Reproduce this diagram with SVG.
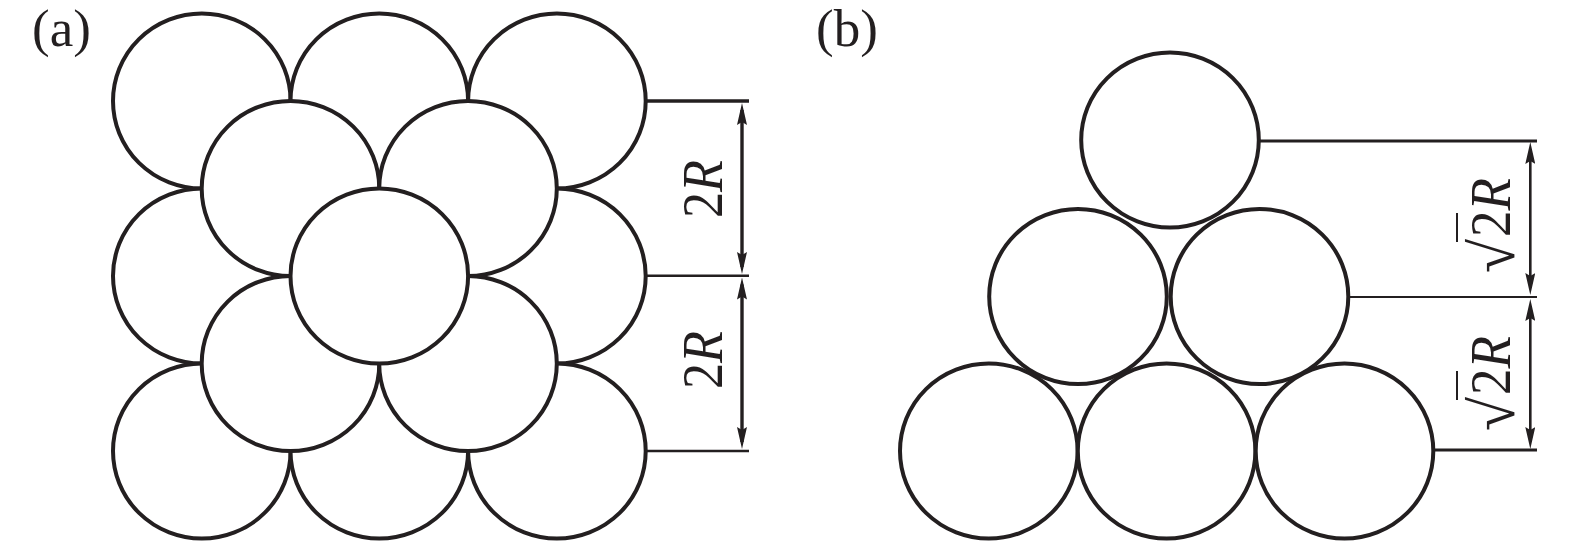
<svg xmlns="http://www.w3.org/2000/svg" width="1575" height="548" viewBox="0 0 1575 548">
<defs>
<marker id="ah" viewBox="0 0 22 10" refX="15" refY="5" markerWidth="22" markerHeight="10" markerUnits="userSpaceOnUse" orient="auto-start-reverse"><path d="M22 5L0 10L3 5L0 0Z" fill="#231f20"/></marker>
</defs>
<style>
.c{fill:#fff;stroke:#231f20;stroke-width:4}
.d{stroke:#231f20;stroke-width:2.6;fill:none}
.a{stroke:#231f20;stroke-width:3.4;marker-start:url(#ah);marker-end:url(#ah);fill:none}
.b{stroke-width:2.6}
text{font-family:"Liberation Serif","Times New Roman",serif;fill:#231f20}
.l{font-size:53px}
.v{font-size:56px}
.s{font-size:62px}
.r{font-style:italic}
</style>
<rect width="1575" height="548" fill="#fff"/>
<g id="panel-a-circles">
<g id="a1"><ellipse class="c" cx="201.800" cy="101" rx="88.800" ry="87.600"/></g>
<g id="a2"><ellipse class="c" cx="379.300" cy="101" rx="88.800" ry="87.600"/></g>
<g id="a3"><ellipse class="c" cx="556.900" cy="101" rx="88.800" ry="87.600"/></g>
<g id="a4"><ellipse class="c" cx="201.800" cy="276" rx="88.800" ry="87.600"/></g>
<g id="a5"><ellipse class="c" cx="556.900" cy="276" rx="88.800" ry="87.600"/></g>
<g id="a6"><ellipse class="c" cx="201.800" cy="451" rx="88.800" ry="87.600"/></g>
<g id="a7"><ellipse class="c" cx="379.300" cy="451" rx="88.800" ry="87.600"/></g>
<g id="a8"><ellipse class="c" cx="556.900" cy="451" rx="88.800" ry="87.600"/></g>
<g id="a9"><ellipse class="c" cx="290.500" cy="188.500" rx="88.800" ry="87.600"/></g>
<g id="a10"><ellipse class="c" cx="468" cy="188.500" rx="88.800" ry="87.600"/></g>
<g id="a11"><ellipse class="c" cx="290.500" cy="363.500" rx="88.800" ry="87.600"/></g>
<g id="a12"><ellipse class="c" cx="468" cy="363.500" rx="88.800" ry="87.600"/></g>
<g id="a13"><ellipse class="c" cx="379.300" cy="276" rx="88.800" ry="87.600"/></g>
</g>
<g id="panel-b-circles">
<g id="b1"><ellipse class="c" cx="1170" cy="140" rx="88.800" ry="87.600"/></g>
<g id="b2"><ellipse class="c" cx="1078" cy="296.500" rx="88.800" ry="87.600"/></g>
<g id="b3"><ellipse class="c" cx="1259.500" cy="296.500" rx="88.800" ry="87.600"/></g>
<g id="b4"><ellipse class="c" cx="988.800" cy="451" rx="88.800" ry="87.600"/></g>
<g id="b5"><ellipse class="c" cx="1166.600" cy="451" rx="88.800" ry="87.600"/></g>
<g id="b6"><ellipse class="c" cx="1344.500" cy="451" rx="88.800" ry="87.600"/></g>
</g>
<g id="connectors">
<path class="d" d="M647 101H749" style="stroke-width:3.4"/>
<path class="d" d="M647 275.700H749M647 451H749"/>
<path class="a" d="M742 110V267"/>
<path class="a" d="M742 284.500V442"/>
<path class="d" d="M1260 141H1537M1435 450H1537" style="stroke-width:3"/>
<path class="d" d="M1350 297H1537" style="stroke-width:2.2"/>
<path class="a b" d="M1530.300 149V288"/>
<path class="a b" d="M1530.300 306V442"/>
</g>
<g id="labels">
<text class="l" x="32" y="46">(a)</text>
<text class="l" x="816" y="46">(b)</text>
<text class="v" transform="translate(722 218) rotate(-90)" textLength="58" lengthAdjust="spacingAndGlyphs">2<tspan class="r">R</tspan></text>
<text class="v" transform="translate(722 389) rotate(-90)" textLength="58" lengthAdjust="spacingAndGlyphs">2<tspan class="r">R</tspan></text>
<text class="v" transform="translate(1510 237) rotate(-90)" textLength="59" lengthAdjust="spacingAndGlyphs">2<tspan class="r">R</tspan></text>
<text class="v" transform="translate(1510 395) rotate(-90)" textLength="59" lengthAdjust="spacingAndGlyphs">2<tspan class="r">R</tspan></text>
<text class="s" transform="translate(1514 273) rotate(-90)">√</text>
<text class="s" transform="translate(1514 431) rotate(-90)">√</text>
<path class="d" d="M1457 242V213M1457 400V371" style="stroke-width:2"/>
</g>
</svg>
